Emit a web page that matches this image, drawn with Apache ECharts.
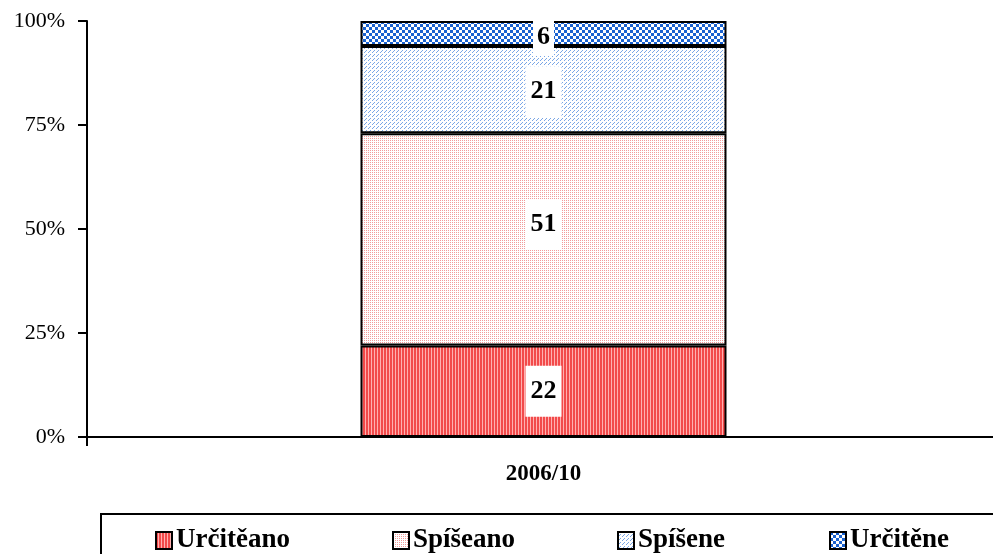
<!DOCTYPE html>
<html><head><meta charset="utf-8">
<script src="https://cdn.jsdelivr.net/npm/echarts@6/dist/echarts.min.js"></script>
<style>html,body{margin:0;padding:0;background:#fff;overflow:hidden}#c{width:1000px;height:554px}</style>
</head><body><div id="c"></div>
<script>
var categories = ['2006/10'];
var seriesNames = ['Určitěano', 'Spíšeano', 'Spíšene', 'Určitěne'];
var valUrciteAno = [22];
var valSpiseAno = [51];
var valSpiseNe = [21];
var valUrciteNe = [6];
var yTickLabels = ['0%', '25%', '50%', '75%', '100%'];

function pat(w, h, draw) {
  var c = document.createElement('canvas'); c.width = w; c.height = h;
  var g = c.getContext('2d'); draw(g);
  return { image: c, repeat: 'repeat' };
}
var pStripes = pat(3, 3, function (g) { g.fillStyle = '#f24a4a'; g.fillRect(0,0,3,3); g.fillStyle = '#ffb0b0'; g.fillRect(2,0,1,3); });
var pPink = pat(4, 4, function (g) { g.fillStyle = '#fff'; g.fillRect(0,0,4,4); g.fillStyle = '#f39a9a'; g.fillRect(0,0,1,1); g.fillRect(2,2,1,1); g.fillRect(2,0,1,1); g.fillRect(0,2,1,1); });
var pBlue = pat(4, 4, function (g) { g.fillStyle = '#fff'; g.fillRect(0,0,4,4); g.fillStyle = '#7aa6e6'; g.fillRect(0,0,1,1); g.fillRect(2,2,1,1); g.fillRect(1,3,1,1); });
var pCheck = pat(6, 6, function (g) { g.fillStyle = '#fff'; g.fillRect(0,0,6,6); g.fillStyle = '#1a62d0'; g.fillRect(0,0,3,3); g.fillRect(3,3,3,3); });

var pats = [pStripes, pPink, pBlue, pCheck];
var vals = [valUrciteAno, valSpiseAno, valSpiseNe, valUrciteNe];
var labelOffsets = [[0, 0], [0, -15], [0, 2], [0, -8]];

var series = seriesNames.map(function (n, i) {
  return {
    name: n, type: 'bar', stack: 'a', barWidth: 366,
    data: vals[i],
    itemStyle: { color: pats[i], borderColor: '#000', borderWidth: 2 },
    label: {
      show: true, position: i === 3 ? 'insideTop' : 'inside', offset: labelOffsets[i],
      formatter: '{c}', color: '#000', fontFamily: 'Liberation Serif', fontWeight: 'bold', fontSize: 26,
      backgroundColor: '#fff', padding: i === 3 ? [6, 4, 6, 4] : [13, 5, 12, 5]
    }
  };
});

var legendX = [150, 387, 612, 824];
var legends = seriesNames.map(function (n, i) {
  return {
    data: [n], left: legendX[i], top: 522, itemWidth: 16, itemHeight: 17, itemGap: 5,
    icon: 'rect',
    itemStyle: { borderColor: '#000', borderWidth: 2 },
    textStyle: { fontFamily: 'Liberation Serif', fontWeight: 'bold', fontSize: 27, color: '#000', padding: [0, 0, 0, -1] },
    selectedMode: false
  };
});

var chart = echarts.init(document.getElementById('c'));
chart.setOption({
  animation: false,
  grid: { left: 87, right: 0, top: 21, bottom: 117, containLabel: false },
  legend: legends,
  xAxis: {
    type: 'category', data: categories,
    axisLine: { lineStyle: { color: '#000', width: 2 } },
    axisTick: { show: true, length: 9, lineStyle: { color: '#000', width: 2 } },
    axisLabel: { margin: 26, fontFamily: 'Liberation Serif', fontWeight: 'bold', fontSize: 23, color: '#000' }
  },
  yAxis: {
    type: 'value', min: 0, max: 100, interval: 25,
    axisLine: { show: true, lineStyle: { color: '#000', width: 2 } },
    axisTick: { show: true, length: 9, lineStyle: { color: '#000', width: 2 } },
    splitLine: { show: false },
    axisLabel: { margin: 22, fontFamily: 'Liberation Serif', fontSize: 22, color: '#000',
      formatter: function (v) { return yTickLabels[Math.round(v / 25)]; } }
  },
  graphic: [{ type: 'rect', shape: { x: 101, y: 514, width: 920, height: 60 }, style: { fill: 'none', stroke: '#000', lineWidth: 2 }, z: 100 }],
  series: series
});
</script></body></html>
